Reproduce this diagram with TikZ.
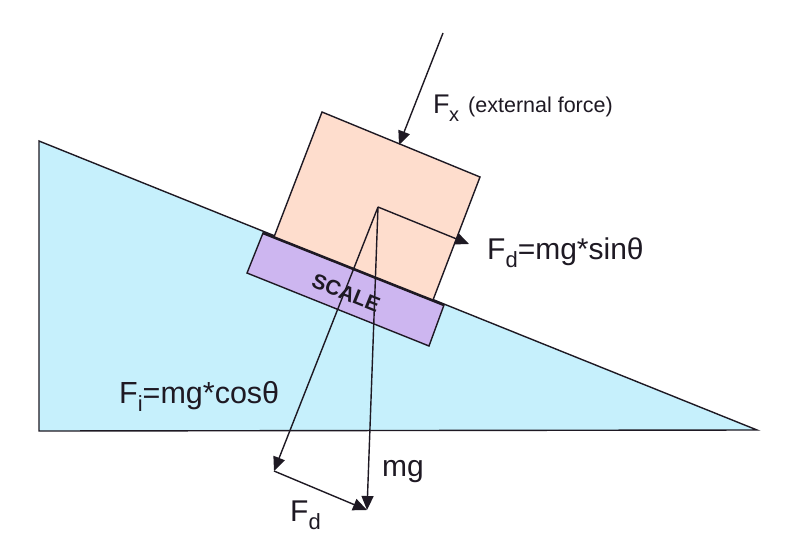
\documentclass[tikz,border=0pt]{standalone}
\usepackage{fontspec}
\setmainfont{Liberation Sans}
\usetikzlibrary{arrows.meta}
\definecolor{wedgeblue}{RGB}{198,240,252}
\definecolor{blockpeach}{RGB}{254,221,205}
\definecolor{scalepurple}{RGB}{205,182,240}
\definecolor{inkdark}{RGB}{30,25,35}
\tikzset{
  forcearrow/.style={draw=inkdark,line width=1.4pt,-{Triangle[length=14pt,width=12pt,fill=inkdark]}},
  outline/.style={draw=inkdark,line width=1.4pt,line join=miter},
  lab/.style={inner sep=0pt,text=inkdark,anchor=base west},
}
\newcommand{\subdrop}[1]{\raisebox{-8pt}{\fontsize{22}{22}\selectfont #1}}
\begin{document}
\begin{tikzpicture}[x=1pt,y=-1pt]
\useasboundingbox (0,0) rectangle (800,549);
\fill[white] (0,0) rectangle (800,549);
% coordinates
\coordinate (apex) at (39,141);
\coordinate (toe) at (757,430);
\coordinate (heel) at (39,431);
\coordinate (bTL) at (322,112);
\coordinate (bTR) at (480,177);
\coordinate (bBR) at (433,300);
\coordinate (bBL) at (274,237);
\coordinate (sTL) at (263,233);
\coordinate (sTR) at (444,305);
\coordinate (sBR) at (429,346);
\coordinate (sBL) at (247,273);
\coordinate (cen) at (378,207);
\coordinate (fdTip) at (469,244);
\coordinate (fiTip) at (274,471);
\coordinate (mgTip) at (367,510);
\coordinate (fxTop) at (443,33);
\coordinate (fxTip) at (399,145);
% wedge
\draw[outline,fill=wedgeblue] (apex) -- (toe) -- (heel) -- cycle;
% block and scale
\fill[blockpeach] (bBL) -- (bTL) -- (bTR) -- (bBR) -- cycle;
\draw[outline] (bBL) -- (bTL) -- (bTR) -- (bBR);
\draw[outline,fill=scalepurple] (sTL) -- (sTR) -- (sBR) -- (sBL) -- cycle;
\draw[draw=inkdark,line width=2.6pt] (sTL) -- (sTR);
% scale label
\node[rotate=-22,inner sep=0pt,text=inkdark,font=\bfseries\fontsize{21}{21}\selectfont] (scaleLabel) at (346,293) {SCALE};
% forces
\draw[forcearrow] (cen) -- (fdTip);
\draw[forcearrow] (cen) -- (fiTip);
\draw[forcearrow] (cen) -- (mgTip);
\draw[forcearrow] (fiTip) -- (mgTip);
\draw[forcearrow] (fxTop) -- (fxTip);
% labels
\node[lab,font=\fontsize{27}{27}\selectfont] (lfx) at (433,113) {F};
\node[lab,font=\fontsize{20}{20}\selectfont] (lfxs) at (449,121) {x};
\node[lab,font=\fontsize{21.5}{22}\selectfont] (lext) at (468,112) {(external force)};
\node[lab,font=\fontsize{30}{30}\selectfont] (lfd) at (487,259) {F\subdrop{d}=mg*sinθ};
\node[lab,font=\fontsize{30.5}{30}\selectfont] (lfi) at (119,403) {F\subdrop{i}=mg*cosθ};
\node[lab,font=\fontsize{30}{30}\selectfont] (lmg) at (382,476) {mg};
\node[lab,font=\fontsize{30}{30}\selectfont] (lfd2) at (290,521) {F\subdrop{d}};
\end{tikzpicture}
\end{document}
